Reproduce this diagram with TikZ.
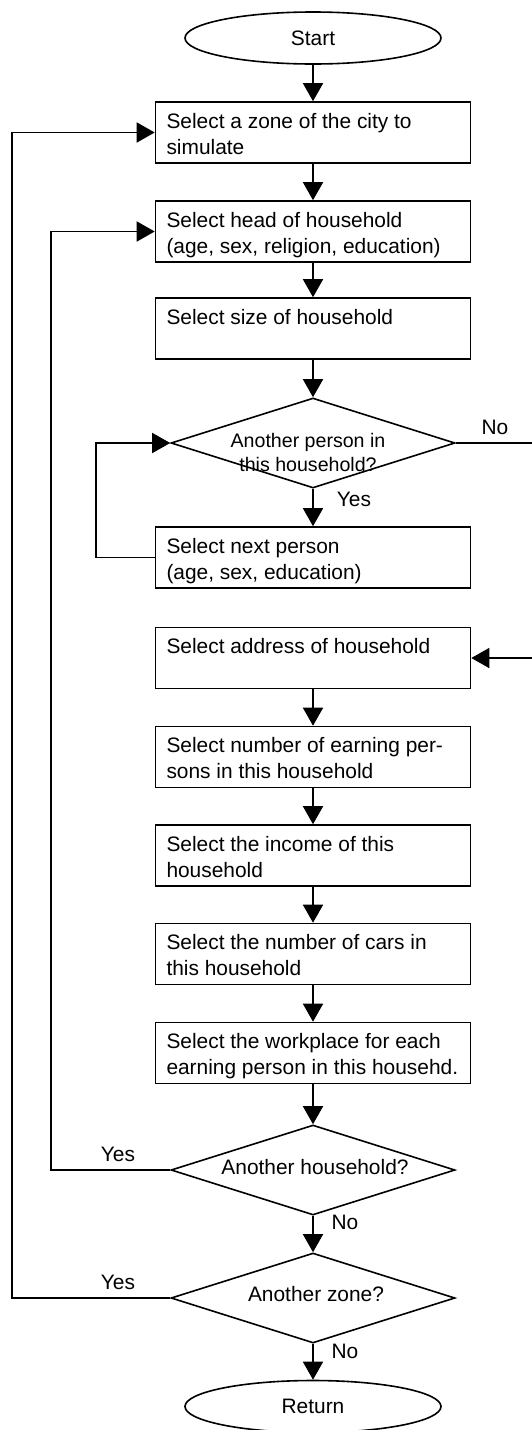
\documentclass[tikz,border=0pt]{standalone}
\usepackage{fontspec}
\setmainfont{Liberation Sans}
\usetikzlibrary{shapes.geometric,arrows.meta}
\newcommand{\boxtxt}[1]{\hspace*{11pt}\parbox[c][61pt][t]{304pt}{\raggedright\rule{0pt}{26pt}#1}}
\newcommand{\dtxt}[3]{\makebox[0pt]{\kern#2\raisebox{#1}[0pt][0pt]{\begin{tabular}[t]{@{}c@{}}#3\end{tabular}}}}
\begin{document}
\begin{tikzpicture}[x=1pt,y=-1pt,line width=1.6pt,
  font=\fontsize{20.9}{26}\selectfont,
  >={Triangle[length=18pt,width=20pt]},
  box/.style={draw,rectangle,inner sep=0pt,minimum width=315pt,minimum height=61pt},
  term/.style={draw,ellipse,inner sep=0pt,minimum width=256pt,minimum height=52pt},
  dec/.style={draw,diamond,inner sep=0pt,minimum width=284pt,minimum height=90pt},
  lbl/.style={inner sep=0pt}]
\useasboundingbox (0,0) rectangle (531,1430);
\node[term] (start) at (313,38) {Start};
\node[box] (b1) at (313,132.5) {\boxtxt{Select a zone of the city to\\simulate}};
\node[box] (b2) at (313,231.5) {\boxtxt{Select head of household\\(age, sex, religion, education)}};
\node[box] (b3) at (313,328.5) {\boxtxt{Select size of household}};
\node[dec,font=\fontsize{19.6}{23.3}\selectfont] (d1) at (313,443) {\dtxt{-4.7pt}{-10pt}{Another person in\\this household?}};
\node[box] (b4) at (313,557.5) {\boxtxt{Select next person\\(age, sex, education)}};
\node[box] (b5) at (313,658) {\boxtxt{Select address of household}};
\node[box] (b6) at (313,757) {\boxtxt{Select number of earning per-\\sons in this household}};
\node[box] (b7) at (313,855.5) {\boxtxt{Select the income of this\\household}};
\node[box] (b8) at (313,954) {\boxtxt{Select the number of cars in\\this household}};
\node[box] (b9) at (313,1053) {\boxtxt{Select the workplace for each\\earning person in this househd.}};
\node[dec] (d2) at (313,1170) {\dtxt{-4pt}{4pt}{Another household?}};
\node[dec] (d3) at (313,1298) {\dtxt{-3.7pt}{6pt}{Another zone?}};
\node[term] (ret) at (313,1406.5) {Return};

\draw[->] (start) -- (b1);
\draw[->] (b1) -- (b2);
\draw[->] (b2) -- (b3);
\draw[->] (b3) -- (d1);
\draw[->] (d1) -- (b4);
\draw[->] (b5) -- (b6);
\draw[->] (b6) -- (b7);
\draw[->] (b7) -- (b8);
\draw[->] (b8) -- (b9);
\draw[->] (b9) -- (d2);
\draw[->] (d2) -- (d3);
\draw[->] (d3) -- (ret);

\coordinate (c1) at (96,443);
\coordinate (c2) at (535,443);
\coordinate (c3) at (51,231.5);
\coordinate (c4) at (12,132.5);
\draw[->] (b4.west) -| (c1) -- (d1.west);
\draw[->] (d1.east) -- (c2) |- (b5.east);
\draw[->] (d2.west) -| (c3) -- (b2.west);
\draw[->] (d3.west) -| (c4) -- (b1.west);

\node[lbl] (no1) at (495,427) {No};
\node[lbl] (yes1) at (354,499) {Yes};
\node[lbl] (yes2) at (118,1154) {Yes};
\node[lbl] (no2) at (345,1222) {No};
\node[lbl] (yes3) at (118,1282) {Yes};
\node[lbl] (no3) at (345,1351) {No};
\end{tikzpicture}
\end{document}
